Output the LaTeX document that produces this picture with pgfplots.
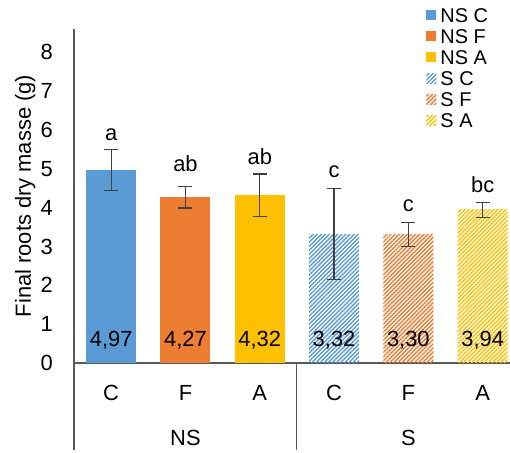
\documentclass[border=0pt]{standalone}
\usepackage{pgfplots}
\pgfplotsset{compat=1.18}
\usetikzlibrary{patterns.meta}
\usepackage{fontspec}
\setmainfont{Liberation Sans}
\definecolor{cb}{HTML}{5B9BD5}
\definecolor{co}{HTML}{ED7D31}
\definecolor{cy}{HTML}{FFC000}
\definecolor{axc}{HTML}{595959}
\newcommand{\bigf}{\fontsize{22}{26}\selectfont}
\begin{document}
\begin{tikzpicture}
\useasboundingbox (0,0) rectangle (510bp,453bp);
\begin{axis}[
  at={(74bp,90bp)}, anchor=south west,
  scale only axis, width=436bp, height=334bp,
  xmin=-0.5, xmax=5.368, ymin=0, ymax=8.6,
  clip=false,
  axis x line=bottom, axis y line=left,
  axis line style={-, draw=axc, line width=1.1bp},
  ytick={0,...,8}, xtick={0,...,5}, xticklabels={C,F,A,C,F,A},
  major tick length=0pt,
  tick label style={font=\bigf, inner sep=0pt},
  /pgf/number format/assume math mode=true,
  yticklabel style={anchor=east, xshift=-21bp},
  xticklabel style={anchor=base, yshift=-37bp},
  ylabel={Final roots dry masse (g)},
  ylabel style={font=\bigf, at={(axis description cs:-0.112,0.5)}, anchor=center},
  legend style={at={(axis description cs:0.808,1.065)}, anchor=north west,
    draw=none, fill=none, font=\fontsize{20}{22}\selectfont, inner sep=0pt,
    row sep=5bp, nodes={inner sep=1bp, text height=14bp, text depth=0pt},
    /tikz/every odd column/.append style={column sep=3bp}},
  legend cell align=left,
  legend image code/.code={\path[#1, draw=none] (0bp,-5bp) rectangle (10bp,5bp);},
  error bars/y dir=both, error bars/y explicit,
  error bars/error bar style={black!75, line width=1.2bp},
  error bars/error mark options={black!75, line width=1.2bp, mark size=7bp, rotate=90},
  mybar/.style={ybar, bar width=50bp, /pgf/bar shift=0pt, draw=none},
  mypat/.style={pattern={Lines[angle=45, distance=2.9bp, line width=1.4bp]}, pattern color=#1},
]
\addplot[mybar, fill=cb] coordinates {(0,4.97) +- (0,0.52)};
\addlegendentry{NS C}
\addplot[mybar, fill=co] coordinates {(1,4.27) +- (0,0.28)};
\addlegendentry{NS F}
\addplot[mybar, fill=cy] coordinates {(2,4.32) +- (0,0.545)};
\addlegendentry{NS A}
\addplot[mybar, mypat=cb] coordinates {(3,3.32) +- (0,1.17)};
\addlegendentry{S C}
\addplot[mybar, mypat=co] coordinates {(4,3.30) +- (0,0.31)};
\addlegendentry{S F}
\addplot[mybar, mypat=cy] coordinates {(5,3.94) +- (0,0.19)};
\addlegendentry{S A}
% significance letters
\addplot[forget plot, only marks, mark=none, point meta=explicit symbolic,
  nodes near coords, nodes near coords style={anchor=base, inner sep=0pt, font=\bigf}]
  coordinates {(0,5.74)[a] (1,4.925)[ab] (2,5.10)[ab] (3,4.77)[c] (4,3.895)[c] (5,4.385)[bc]};
% value labels
\addplot[forget plot, only marks, mark=none, point meta=explicit,
  nodes near coords={\pgfmathprintnumber[fixed, fixed zerofill, precision=2, use comma]{\pgfplotspointmeta}},
  nodes near coords style={anchor=base, inner sep=0pt, yshift=17bp, font=\bigf}]
  coordinates {(0,0)[4.97] (1,0)[4.27] (2,0)[4.32] (3,0)[3.32] (4,0)[3.30] (5,0)[3.94]};
\draw[axc, line width=1.1bp] (axis cs:-0.5,0) -- ++(0pt,-87bp);
\draw[axc, line width=1.1bp] (axis cs:2.5,0) -- ++(0pt,-87bp);
\node[anchor=base, font=\bigf, yshift=-82bp] at (axis cs:1,0) {NS};
\node[anchor=base, font=\bigf, yshift=-82bp] at (axis cs:4,0) {S};
\end{axis}
\end{tikzpicture}
\end{document}
